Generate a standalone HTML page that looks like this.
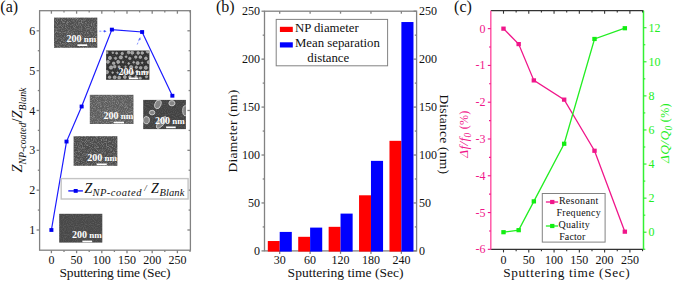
<!DOCTYPE html>
<html><head><meta charset="utf-8"><style>
html,body{margin:0;padding:0;background:#fff;width:675px;height:282px;overflow:hidden}
svg{display:block}
text{font-family:"Liberation Serif", serif}
</style></head><body>
<svg width="675" height="282" viewBox="0 0 675 282">
<defs>
<filter id="n1" x="0" y="0" width="100%" height="100%"><feTurbulence type="fractalNoise" baseFrequency="1.2" numOctaves="1" seed="2"/><feColorMatrix type="matrix" values="0 0 0 0 1  0 0 0 0 1  0 0 0 0 1  0.9 0 0 0 -0.38"/></filter>
<filter id="n2" x="0" y="0" width="100%" height="100%"><feTurbulence type="fractalNoise" baseFrequency="0.8" numOctaves="1" seed="5"/><feColorMatrix type="matrix" values="0 0 0 0 1  0 0 0 0 1  0 0 0 0 1  0.6 0 0 0 -0.3"/></filter>
<filter id="n3" x="0" y="0" width="100%" height="100%"><feTurbulence type="fractalNoise" baseFrequency="0.9" numOctaves="1" seed="7"/><feColorMatrix type="matrix" values="0 0 0 0 1  0 0 0 0 1  0 0 0 0 1  0.35 0 0 0 -0.15"/></filter>
<clipPath id="c2"><rect x="106.1" y="50.5" width="43.3" height="29.3"/></clipPath>
<clipPath id="c5"><rect x="143.2" y="99.9" width="42.7" height="29.2"/></clipPath>
</defs>
<rect width="675" height="282" fill="#fff"/>
<rect x="39.6" y="10.7" width="150.8" height="239.5" fill="none" stroke="#828282" stroke-width="1.3"/>
<line x1="51.4" y1="250.2" x2="51.4" y2="253.2" stroke="#828282" stroke-width="1.3" />
<line x1="51.4" y1="10.7" x2="51.4" y2="13.7" stroke="#828282" stroke-width="1.3" />
<line x1="64" y1="250.2" x2="64" y2="252" stroke="#828282" stroke-width="1.3" />
<line x1="64" y1="10.7" x2="64" y2="12.5" stroke="#828282" stroke-width="1.3" />
<line x1="76.6" y1="250.2" x2="76.6" y2="253.2" stroke="#828282" stroke-width="1.3" />
<line x1="76.6" y1="10.7" x2="76.6" y2="13.7" stroke="#828282" stroke-width="1.3" />
<line x1="89.2" y1="250.2" x2="89.2" y2="252" stroke="#828282" stroke-width="1.3" />
<line x1="89.2" y1="10.7" x2="89.2" y2="12.5" stroke="#828282" stroke-width="1.3" />
<line x1="101.8" y1="250.2" x2="101.8" y2="253.2" stroke="#828282" stroke-width="1.3" />
<line x1="101.8" y1="10.7" x2="101.8" y2="13.7" stroke="#828282" stroke-width="1.3" />
<line x1="114.4" y1="250.2" x2="114.4" y2="252" stroke="#828282" stroke-width="1.3" />
<line x1="114.4" y1="10.7" x2="114.4" y2="12.5" stroke="#828282" stroke-width="1.3" />
<line x1="127" y1="250.2" x2="127" y2="253.2" stroke="#828282" stroke-width="1.3" />
<line x1="127" y1="10.7" x2="127" y2="13.7" stroke="#828282" stroke-width="1.3" />
<line x1="139.6" y1="250.2" x2="139.6" y2="252" stroke="#828282" stroke-width="1.3" />
<line x1="139.6" y1="10.7" x2="139.6" y2="12.5" stroke="#828282" stroke-width="1.3" />
<line x1="152.2" y1="250.2" x2="152.2" y2="253.2" stroke="#828282" stroke-width="1.3" />
<line x1="152.2" y1="10.7" x2="152.2" y2="13.7" stroke="#828282" stroke-width="1.3" />
<line x1="164.8" y1="250.2" x2="164.8" y2="252" stroke="#828282" stroke-width="1.3" />
<line x1="164.8" y1="10.7" x2="164.8" y2="12.5" stroke="#828282" stroke-width="1.3" />
<line x1="177.4" y1="250.2" x2="177.4" y2="253.2" stroke="#828282" stroke-width="1.3" />
<line x1="177.4" y1="10.7" x2="177.4" y2="13.7" stroke="#828282" stroke-width="1.3" />
<line x1="190" y1="250.2" x2="190" y2="252" stroke="#828282" stroke-width="1.3" />
<line x1="190" y1="10.7" x2="190" y2="12.5" stroke="#828282" stroke-width="1.3" />
<line x1="36.6" y1="230" x2="39.6" y2="230" stroke="#828282" stroke-width="1.3" />
<line x1="187.4" y1="230" x2="190.4" y2="230" stroke="#828282" stroke-width="1.3" />
<line x1="37.8" y1="210.08" x2="39.6" y2="210.08" stroke="#828282" stroke-width="1.3" />
<line x1="188.6" y1="210.08" x2="190.4" y2="210.08" stroke="#828282" stroke-width="1.3" />
<line x1="36.6" y1="190.16" x2="39.6" y2="190.16" stroke="#828282" stroke-width="1.3" />
<line x1="187.4" y1="190.16" x2="190.4" y2="190.16" stroke="#828282" stroke-width="1.3" />
<line x1="37.8" y1="170.24" x2="39.6" y2="170.24" stroke="#828282" stroke-width="1.3" />
<line x1="188.6" y1="170.24" x2="190.4" y2="170.24" stroke="#828282" stroke-width="1.3" />
<line x1="36.6" y1="150.32" x2="39.6" y2="150.32" stroke="#828282" stroke-width="1.3" />
<line x1="187.4" y1="150.32" x2="190.4" y2="150.32" stroke="#828282" stroke-width="1.3" />
<line x1="37.8" y1="130.4" x2="39.6" y2="130.4" stroke="#828282" stroke-width="1.3" />
<line x1="188.6" y1="130.4" x2="190.4" y2="130.4" stroke="#828282" stroke-width="1.3" />
<line x1="36.6" y1="110.48" x2="39.6" y2="110.48" stroke="#828282" stroke-width="1.3" />
<line x1="187.4" y1="110.48" x2="190.4" y2="110.48" stroke="#828282" stroke-width="1.3" />
<line x1="37.8" y1="90.56" x2="39.6" y2="90.56" stroke="#828282" stroke-width="1.3" />
<line x1="188.6" y1="90.56" x2="190.4" y2="90.56" stroke="#828282" stroke-width="1.3" />
<line x1="36.6" y1="70.64" x2="39.6" y2="70.64" stroke="#828282" stroke-width="1.3" />
<line x1="187.4" y1="70.64" x2="190.4" y2="70.64" stroke="#828282" stroke-width="1.3" />
<line x1="37.8" y1="50.72" x2="39.6" y2="50.72" stroke="#828282" stroke-width="1.3" />
<line x1="188.6" y1="50.72" x2="190.4" y2="50.72" stroke="#828282" stroke-width="1.3" />
<line x1="36.6" y1="30.8" x2="39.6" y2="30.8" stroke="#828282" stroke-width="1.3" />
<line x1="187.4" y1="30.8" x2="190.4" y2="30.8" stroke="#828282" stroke-width="1.3" />
<text x="35.3" y="234.1" font-size="12" text-anchor="end" fill="#111"  style="">1</text>
<text x="35.3" y="194.26" font-size="12" text-anchor="end" fill="#111"  style="">2</text>
<text x="35.3" y="154.42" font-size="12" text-anchor="end" fill="#111"  style="">3</text>
<text x="35.3" y="114.58" font-size="12" text-anchor="end" fill="#111"  style="">4</text>
<text x="35.3" y="74.74" font-size="12" text-anchor="end" fill="#111"  style="">5</text>
<text x="35.3" y="34.9" font-size="12" text-anchor="end" fill="#111"  style="">6</text>
<text x="51.4" y="264.2" font-size="12" text-anchor="middle" fill="#111"  style="">0</text>
<text x="76.6" y="264.2" font-size="12" text-anchor="middle" fill="#111"  style="">50</text>
<text x="101.8" y="264.2" font-size="12" text-anchor="middle" fill="#111"  style="">100</text>
<text x="127" y="264.2" font-size="12" text-anchor="middle" fill="#111"  style="">150</text>
<text x="152.2" y="264.2" font-size="12" text-anchor="middle" fill="#111"  style="">200</text>
<text x="177.4" y="264.2" font-size="12" text-anchor="middle" fill="#111"  style="">250</text>
<text x="59.6" y="277" font-size="13.5" text-anchor="start" fill="#111" textLength="110.8" lengthAdjust="spacing" style="">Sputtering time (Sec)</text>
<text x="9.2" y="12" font-size="16" text-anchor="middle" fill="#111"  style="">(a)</text>
<text transform="translate(21.7,172.5) rotate(-90)" font-size="14.5" fill="#111" style="font-style:italic">Z<tspan font-size="9.8" dy="4">NP-coated</tspan><tspan dy="-4" font-size="14.5" style="font-style:normal">/</tspan>Z<tspan font-size="9.8" dy="4">Blank</tspan></text>
<rect x="54" y="17.6" width="43.3" height="30.2" fill="#4e4e4e" />
<rect x="54" y="17.6" width="43.3" height="30.2" fill="#fff" filter="url(#n1)" opacity="1"/>
<rect x="106.1" y="50.5" width="43.3" height="29.3" fill="#303030" />
<rect x="106.1" y="50.5" width="43.3" height="29.3" fill="#fff" filter="url(#n3)" opacity="1"/>
<rect x="89.8" y="94.8" width="43.7" height="29.2" fill="#5c5c5c" />
<rect x="89.8" y="94.8" width="43.7" height="29.2" fill="#fff" filter="url(#n1)" opacity="1"/>
<rect x="73.6" y="136.2" width="43.8" height="29.6" fill="#4a4a4a" />
<rect x="73.6" y="136.2" width="43.8" height="29.6" fill="#fff" filter="url(#n1)" opacity="1"/>
<rect x="143.2" y="99.9" width="42.7" height="29.2" fill="#424242" />
<rect x="143.2" y="99.9" width="42.7" height="29.2" fill="#fff" filter="url(#n3)" opacity="1"/>
<rect x="59.2" y="213.8" width="43.1" height="28.8" fill="#484848" />
<rect x="59.2" y="213.8" width="43.1" height="28.8" fill="#fff" filter="url(#n3)" opacity="1"/>
<g clip-path="url(#c2)"><circle cx="106.92" cy="52.59" r="1.13" fill="#a0a0a0" stroke="#cfcfcf" stroke-width="0.5"/><circle cx="112.83" cy="52.75" r="0.86" fill="#a0a0a0" stroke="#cfcfcf" stroke-width="0.5"/><circle cx="116.63" cy="53.17" r="1.03" fill="#a0a0a0" stroke="#cfcfcf" stroke-width="0.5"/><circle cx="122.22" cy="53.49" r="1.22" fill="#a0a0a0" stroke="#cfcfcf" stroke-width="0.5"/><circle cx="128.64" cy="52.45" r="1.38" fill="#a0a0a0" stroke="#cfcfcf" stroke-width="0.5"/><circle cx="132.23" cy="52.77" r="1.58" fill="#a0a0a0" stroke="#cfcfcf" stroke-width="0.5"/><circle cx="138.15" cy="52.98" r="1.4" fill="#a0a0a0" stroke="#cfcfcf" stroke-width="0.5"/><circle cx="142.24" cy="53.02" r="1.33" fill="#a0a0a0" stroke="#cfcfcf" stroke-width="0.5"/><circle cx="147.86" cy="51.56" r="1.58" fill="#a0a0a0" stroke="#cfcfcf" stroke-width="0.5"/><circle cx="109.94" cy="57.94" r="1.59" fill="#a0a0a0" stroke="#cfcfcf" stroke-width="0.5"/><circle cx="115.57" cy="58.34" r="1.16" fill="#a0a0a0" stroke="#cfcfcf" stroke-width="0.5"/><circle cx="120.86" cy="57.39" r="1.64" fill="#a0a0a0" stroke="#cfcfcf" stroke-width="0.5"/><circle cx="126.13" cy="56.69" r="0.92" fill="#a0a0a0" stroke="#cfcfcf" stroke-width="0.5"/><circle cx="129.78" cy="58.43" r="1.19" fill="#a0a0a0" stroke="#cfcfcf" stroke-width="0.5"/><circle cx="135.78" cy="57.1" r="1.26" fill="#a0a0a0" stroke="#cfcfcf" stroke-width="0.5"/><circle cx="140.35" cy="57.2" r="1.33" fill="#a0a0a0" stroke="#cfcfcf" stroke-width="0.5"/><circle cx="145.89" cy="58.31" r="1.41" fill="#a0a0a0" stroke="#cfcfcf" stroke-width="0.5"/><circle cx="151.74" cy="58.21" r="1.69" fill="#a0a0a0" stroke="#cfcfcf" stroke-width="0.5"/><circle cx="107.88" cy="61.83" r="1.57" fill="#a0a0a0" stroke="#cfcfcf" stroke-width="0.5"/><circle cx="113.62" cy="63.31" r="1.31" fill="#a0a0a0" stroke="#cfcfcf" stroke-width="0.5"/><circle cx="118.17" cy="61.92" r="1.55" fill="#a0a0a0" stroke="#cfcfcf" stroke-width="0.5"/><circle cx="122.96" cy="62.07" r="0.86" fill="#a0a0a0" stroke="#cfcfcf" stroke-width="0.5"/><circle cx="128.68" cy="63.48" r="0.88" fill="#a0a0a0" stroke="#cfcfcf" stroke-width="0.5"/><circle cx="133.66" cy="62.32" r="0.94" fill="#a0a0a0" stroke="#cfcfcf" stroke-width="0.5"/><circle cx="137.65" cy="63.04" r="1.59" fill="#a0a0a0" stroke="#cfcfcf" stroke-width="0.5"/><circle cx="142.2" cy="62.73" r="0.84" fill="#a0a0a0" stroke="#cfcfcf" stroke-width="0.5"/><circle cx="148.78" cy="62.16" r="1.59" fill="#a0a0a0" stroke="#cfcfcf" stroke-width="0.5"/><circle cx="111.06" cy="67.51" r="1.7" fill="#a0a0a0" stroke="#cfcfcf" stroke-width="0.5"/><circle cx="114.68" cy="66.65" r="1.34" fill="#a0a0a0" stroke="#cfcfcf" stroke-width="0.5"/><circle cx="119.17" cy="66.89" r="1.17" fill="#a0a0a0" stroke="#cfcfcf" stroke-width="0.5"/><circle cx="125.54" cy="66.81" r="0.84" fill="#a0a0a0" stroke="#cfcfcf" stroke-width="0.5"/><circle cx="131.21" cy="67.13" r="1.66" fill="#a0a0a0" stroke="#cfcfcf" stroke-width="0.5"/><circle cx="136.37" cy="67.26" r="1.21" fill="#a0a0a0" stroke="#cfcfcf" stroke-width="0.5"/><circle cx="140.64" cy="67.79" r="1.34" fill="#a0a0a0" stroke="#cfcfcf" stroke-width="0.5"/><circle cx="145.83" cy="67.74" r="1.65" fill="#a0a0a0" stroke="#cfcfcf" stroke-width="0.5"/><circle cx="150.82" cy="67.36" r="1.45" fill="#a0a0a0" stroke="#cfcfcf" stroke-width="0.5"/><circle cx="106.92" cy="72.1" r="1.68" fill="#a0a0a0" stroke="#cfcfcf" stroke-width="0.5"/><circle cx="112.65" cy="72.6" r="0.81" fill="#a0a0a0" stroke="#cfcfcf" stroke-width="0.5"/><circle cx="117.51" cy="72.66" r="0.82" fill="#a0a0a0" stroke="#cfcfcf" stroke-width="0.5"/><circle cx="123.05" cy="72.76" r="0.85" fill="#a0a0a0" stroke="#cfcfcf" stroke-width="0.5"/><circle cx="128.18" cy="72.43" r="1.41" fill="#a0a0a0" stroke="#cfcfcf" stroke-width="0.5"/><circle cx="132.68" cy="72.91" r="1.46" fill="#a0a0a0" stroke="#cfcfcf" stroke-width="0.5"/><circle cx="137.05" cy="71.62" r="1.41" fill="#a0a0a0" stroke="#cfcfcf" stroke-width="0.5"/><circle cx="144.22" cy="72" r="1.21" fill="#a0a0a0" stroke="#cfcfcf" stroke-width="0.5"/><circle cx="148.5" cy="72.14" r="1.13" fill="#a0a0a0" stroke="#cfcfcf" stroke-width="0.5"/><circle cx="109.59" cy="77.24" r="1.34" fill="#a0a0a0" stroke="#cfcfcf" stroke-width="0.5"/><circle cx="114.66" cy="77.25" r="1.5" fill="#a0a0a0" stroke="#cfcfcf" stroke-width="0.5"/><circle cx="119.16" cy="77.64" r="1.46" fill="#a0a0a0" stroke="#cfcfcf" stroke-width="0.5"/><circle cx="124.88" cy="76.95" r="1.52" fill="#a0a0a0" stroke="#cfcfcf" stroke-width="0.5"/><circle cx="129.83" cy="76.87" r="1.19" fill="#a0a0a0" stroke="#cfcfcf" stroke-width="0.5"/><circle cx="135.94" cy="76.7" r="1.09" fill="#a0a0a0" stroke="#cfcfcf" stroke-width="0.5"/><circle cx="140.23" cy="78.17" r="1.19" fill="#a0a0a0" stroke="#cfcfcf" stroke-width="0.5"/><circle cx="146.48" cy="76.84" r="1.1" fill="#a0a0a0" stroke="#cfcfcf" stroke-width="0.5"/><circle cx="151.13" cy="78.27" r="1.21" fill="#a0a0a0" stroke="#cfcfcf" stroke-width="0.5"/></g>
<g clip-path="url(#c5)"><ellipse cx="157.9" cy="104.3" rx="3.0" ry="4.5" transform="rotate(20 157.9 104.3)" fill="#858585" stroke="#d0d0d0" stroke-width="0.9"/><ellipse cx="171.9" cy="103.2" rx="3.0" ry="2.6" transform="rotate(0 171.9 103.2)" fill="#858585" stroke="#d0d0d0" stroke-width="0.9"/><ellipse cx="152.1" cy="112.6" rx="2.7" ry="2.3" transform="rotate(0 152.1 112.6)" fill="#858585" stroke="#d0d0d0" stroke-width="0.9"/><ellipse cx="146.4" cy="120.2" rx="3.0" ry="3.6" transform="rotate(10 146.4 120.2)" fill="#858585" stroke="#d0d0d0" stroke-width="0.9"/><ellipse cx="161.5" cy="122.5" rx="2.8" ry="7.2" transform="rotate(40 161.5 122.5)" fill="#858585" stroke="#d0d0d0" stroke-width="0.9"/><ellipse cx="185.2" cy="110.7" rx="2.5" ry="5" transform="rotate(0 185.2 110.7)" fill="#858585" stroke="#d0d0d0" stroke-width="0.9"/></g>
<text x="96.2" y="42.2" font-size="10" text-anchor="end" fill="#fff" font-weight="bold">200<tspan font-size="9"> nm</tspan></text>
<line x1="77.4" y1="45.15" x2="87.2" y2="45.15" stroke="#fff" stroke-width="1.7" />
<text x="148.2" y="74.8" font-size="10" text-anchor="end" fill="#fff" font-weight="bold">200<tspan font-size="9"> nm</tspan></text>
<line x1="128.8" y1="78.35" x2="138.3" y2="78.35" stroke="#fff" stroke-width="1.7" />
<text x="133.3" y="119.2" font-size="10" text-anchor="end" fill="#fff" font-weight="bold">200<tspan font-size="9"> nm</tspan></text>
<line x1="113.7" y1="122.55" x2="124" y2="122.55" stroke="#fff" stroke-width="1.7" />
<text x="116.9" y="161.3" font-size="10" text-anchor="end" fill="#fff" font-weight="bold">200<tspan font-size="9"> nm</tspan></text>
<line x1="96.7" y1="164.35" x2="106.8" y2="164.35" stroke="#fff" stroke-width="1.7" />
<text x="184.8" y="124.2" font-size="10" text-anchor="end" fill="#fff" font-weight="bold">200<tspan font-size="9"> nm</tspan></text>
<line x1="166.1" y1="127.35" x2="175.7" y2="127.35" stroke="#fff" stroke-width="1.7" />
<text x="101.8" y="238" font-size="10" text-anchor="end" fill="#fff" font-weight="bold">200<tspan font-size="9"> nm</tspan></text>
<line x1="82.4" y1="241.45" x2="92.2" y2="241.45" stroke="#fff" stroke-width="1.7" />
<line x1="99.3" y1="31.2" x2="104.5" y2="31.2" stroke="#6677ff" stroke-width="0.8" stroke-dasharray="2 1.6"/>
<path d="M104 29.9 L106.6 31.2 L104 32.5 Z" fill="#4455ff"/>
<line x1="137.2" y1="44.5" x2="139.3" y2="39.5" stroke="#6677ff" stroke-width="0.8" stroke-dasharray="2 1.6"/>
<path d="M138.3 39.4 L140.3 37.2 L140.5 40.1 Z" fill="#4455ff"/>
<polyline points="51.4,230 66.52,141.56 81.64,106.5 111.88,29.6 142.12,32 172.36,95.74" fill="none" stroke="#1a1aff" stroke-width="1.2"/>
<rect x="49.4" y="228.1" width="4" height="3.8" fill="#0000f0" />
<rect x="64.52" y="139.66" width="4" height="3.8" fill="#0000f0" />
<rect x="79.64" y="104.6" width="4" height="3.8" fill="#0000f0" />
<rect x="109.88" y="27.7" width="4" height="3.8" fill="#0000f0" />
<rect x="140.12" y="30.1" width="4" height="3.8" fill="#0000f0" />
<rect x="170.36" y="93.84" width="4" height="3.8" fill="#0000f0" />
<rect x="61.2" y="178.6" width="126.9" height="20.4" fill="#fff" stroke="#c4c4c4" stroke-width="1.4"/>
<line x1="68.3" y1="190.9" x2="82.9" y2="190.9" stroke="#1a1aff" stroke-width="1.4" />
<rect x="73.7" y="189" width="4" height="3.8" fill="#0000f0" />
<text x="84.6" y="193.1" font-size="14" fill="#111" style="font-style:italic">Z</text>
<text x="92.4" y="196.3" font-size="10.5" fill="#111" style="font-style:italic" textLength="49" lengthAdjust="spacing">NP-coated</text>
<text x="144.2" y="191" font-size="9" fill="#111" style="font-style:italic">/</text>
<text x="151.0" y="193.1" font-size="14" fill="#111" style="font-style:italic">Z</text>
<text x="159.4" y="196.0" font-size="10.5" fill="#111" style="font-style:italic" textLength="25" lengthAdjust="spacing">Blank</text>
<rect x="264.5" y="11.2" width="152.1" height="239.7" fill="none" stroke="#828282" stroke-width="1.3"/>
<line x1="261.5" y1="250.9" x2="264.5" y2="250.9" stroke="#828282" stroke-width="1.3" />
<line x1="413.6" y1="250.9" x2="416.6" y2="250.9" stroke="#828282" stroke-width="1.3" />
<line x1="262.7" y1="226.93" x2="264.5" y2="226.93" stroke="#828282" stroke-width="1.3" />
<line x1="414.8" y1="226.93" x2="416.6" y2="226.93" stroke="#828282" stroke-width="1.3" />
<line x1="261.5" y1="202.96" x2="264.5" y2="202.96" stroke="#828282" stroke-width="1.3" />
<line x1="413.6" y1="202.96" x2="416.6" y2="202.96" stroke="#828282" stroke-width="1.3" />
<line x1="262.7" y1="178.99" x2="264.5" y2="178.99" stroke="#828282" stroke-width="1.3" />
<line x1="414.8" y1="178.99" x2="416.6" y2="178.99" stroke="#828282" stroke-width="1.3" />
<line x1="261.5" y1="155.02" x2="264.5" y2="155.02" stroke="#828282" stroke-width="1.3" />
<line x1="413.6" y1="155.02" x2="416.6" y2="155.02" stroke="#828282" stroke-width="1.3" />
<line x1="262.7" y1="131.05" x2="264.5" y2="131.05" stroke="#828282" stroke-width="1.3" />
<line x1="414.8" y1="131.05" x2="416.6" y2="131.05" stroke="#828282" stroke-width="1.3" />
<line x1="261.5" y1="107.08" x2="264.5" y2="107.08" stroke="#828282" stroke-width="1.3" />
<line x1="413.6" y1="107.08" x2="416.6" y2="107.08" stroke="#828282" stroke-width="1.3" />
<line x1="262.7" y1="83.11" x2="264.5" y2="83.11" stroke="#828282" stroke-width="1.3" />
<line x1="414.8" y1="83.11" x2="416.6" y2="83.11" stroke="#828282" stroke-width="1.3" />
<line x1="261.5" y1="59.14" x2="264.5" y2="59.14" stroke="#828282" stroke-width="1.3" />
<line x1="413.6" y1="59.14" x2="416.6" y2="59.14" stroke="#828282" stroke-width="1.3" />
<line x1="262.7" y1="35.17" x2="264.5" y2="35.17" stroke="#828282" stroke-width="1.3" />
<line x1="414.8" y1="35.17" x2="416.6" y2="35.17" stroke="#828282" stroke-width="1.3" />
<line x1="261.5" y1="11.2" x2="264.5" y2="11.2" stroke="#828282" stroke-width="1.3" />
<line x1="413.6" y1="11.2" x2="416.6" y2="11.2" stroke="#828282" stroke-width="1.3" />
<line x1="279.7" y1="250.9" x2="279.7" y2="253.9" stroke="#828282" stroke-width="1.3" />
<line x1="279.7" y1="11.2" x2="279.7" y2="13.7" stroke="#828282" stroke-width="1.3" />
<line x1="310.12" y1="250.9" x2="310.12" y2="253.9" stroke="#828282" stroke-width="1.3" />
<line x1="310.12" y1="11.2" x2="310.12" y2="13.7" stroke="#828282" stroke-width="1.3" />
<line x1="340.54" y1="250.9" x2="340.54" y2="253.9" stroke="#828282" stroke-width="1.3" />
<line x1="340.54" y1="11.2" x2="340.54" y2="13.7" stroke="#828282" stroke-width="1.3" />
<line x1="370.96" y1="250.9" x2="370.96" y2="253.9" stroke="#828282" stroke-width="1.3" />
<line x1="370.96" y1="11.2" x2="370.96" y2="13.7" stroke="#828282" stroke-width="1.3" />
<line x1="401.38" y1="250.9" x2="401.38" y2="253.9" stroke="#828282" stroke-width="1.3" />
<line x1="401.38" y1="11.2" x2="401.38" y2="13.7" stroke="#828282" stroke-width="1.3" />
<text x="259.9" y="255" font-size="12" text-anchor="end" fill="#111"  style="">0</text>
<text x="419" y="255" font-size="12" text-anchor="start" fill="#111"  style="">0</text>
<text x="259.9" y="207.06" font-size="12" text-anchor="end" fill="#111"  style="">50</text>
<text x="419" y="207.06" font-size="12" text-anchor="start" fill="#111"  style="">50</text>
<text x="259.9" y="159.12" font-size="12" text-anchor="end" fill="#111"  style="">100</text>
<text x="419" y="159.12" font-size="12" text-anchor="start" fill="#111"  style="">100</text>
<text x="259.9" y="111.18" font-size="12" text-anchor="end" fill="#111"  style="">150</text>
<text x="419" y="111.18" font-size="12" text-anchor="start" fill="#111"  style="">150</text>
<text x="259.9" y="63.24" font-size="12" text-anchor="end" fill="#111"  style="">200</text>
<text x="419" y="63.24" font-size="12" text-anchor="start" fill="#111"  style="">200</text>
<text x="259.9" y="15.3" font-size="12" text-anchor="end" fill="#111"  style="">250</text>
<text x="419" y="15.3" font-size="12" text-anchor="start" fill="#111"  style="">250</text>
<rect x="267.8" y="241.02" width="11.9" height="10.58" fill="#ff0000" />
<rect x="279.7" y="231.92" width="12.1" height="19.68" fill="#0000ff" />
<rect x="298.22" y="236.81" width="11.9" height="14.79" fill="#ff0000" />
<rect x="310.12" y="227.6" width="12.1" height="24" fill="#0000ff" />
<rect x="328.64" y="226.83" width="11.9" height="24.77" fill="#ff0000" />
<rect x="340.54" y="213.6" width="12.1" height="38" fill="#0000ff" />
<rect x="359.06" y="195.29" width="11.9" height="56.31" fill="#ff0000" />
<rect x="370.96" y="160.87" width="12.1" height="90.73" fill="#0000ff" />
<rect x="389.48" y="140.83" width="11.9" height="110.77" fill="#ff0000" />
<rect x="401.38" y="22.03" width="12.1" height="229.57" fill="#0000ff" />
<text x="279.7" y="264.2" font-size="12" text-anchor="middle" fill="#111"  style="">30</text>
<text x="310.12" y="264.2" font-size="12" text-anchor="middle" fill="#111"  style="">60</text>
<text x="340.54" y="264.2" font-size="12" text-anchor="middle" fill="#111"  style="">120</text>
<text x="370.96" y="264.2" font-size="12" text-anchor="middle" fill="#111"  style="">180</text>
<text x="401.38" y="264.2" font-size="12" text-anchor="middle" fill="#111"  style="">240</text>
<text x="287.6" y="276.6" font-size="13.5" text-anchor="start" fill="#111" textLength="116" lengthAdjust="spacing" style="">Sputtering time (Sec)</text>
<text x="225.25" y="12" font-size="16" text-anchor="middle" fill="#111"  style="">(b)</text>
<text transform="translate(236.8,172.4) rotate(-90)" font-size="13.5" fill="#111" textLength="82.6" lengthAdjust="spacing">Diameter (nm)</text>
<text transform="translate(439.7,94.4) rotate(90)" font-size="13.5" fill="#111" textLength="79.6" lengthAdjust="spacing">Distance (nm)</text>
<rect x="276.2" y="19.4" width="111.4" height="46.4" fill="#fff" stroke="#828282" stroke-width="1"/>
<rect x="279.9" y="26.8" width="12.9" height="5.2" fill="#ff0000" />
<rect x="279.9" y="42.3" width="12.9" height="5.2" fill="#0000ff" />
<text x="294.9" y="31.8" font-size="12.8" text-anchor="start" fill="#111"  style="">NP diameter</text>
<text x="294.9" y="47.3" font-size="12.8" text-anchor="start" fill="#111"  style="">Mean separation</text>
<text x="307.3" y="62.3" font-size="12.8" text-anchor="start" fill="#111"  style="">distance</text>
<line x1="490.8" y1="10.7" x2="643.5" y2="10.7" stroke="#333" stroke-width="1.3" />
<line x1="490.8" y1="249.4" x2="643.5" y2="249.4" stroke="#333" stroke-width="1.3" />
<line x1="490.8" y1="10.7" x2="490.8" y2="249.4" stroke="#ff5aa8" stroke-width="1.5" />
<line x1="643.5" y1="10.7" x2="643.5" y2="249.4" stroke="#33f033" stroke-width="1.5" />
<line x1="503.5" y1="249.4" x2="503.5" y2="252.4" stroke="#333" stroke-width="1.1" />
<line x1="503.5" y1="10.7" x2="503.5" y2="13.7" stroke="#333" stroke-width="1.1" />
<line x1="516.14" y1="249.4" x2="516.14" y2="251.2" stroke="#333" stroke-width="1.1" />
<line x1="516.14" y1="10.7" x2="516.14" y2="12.5" stroke="#333" stroke-width="1.1" />
<line x1="528.78" y1="249.4" x2="528.78" y2="252.4" stroke="#333" stroke-width="1.1" />
<line x1="528.78" y1="10.7" x2="528.78" y2="13.7" stroke="#333" stroke-width="1.1" />
<line x1="541.42" y1="249.4" x2="541.42" y2="251.2" stroke="#333" stroke-width="1.1" />
<line x1="541.42" y1="10.7" x2="541.42" y2="12.5" stroke="#333" stroke-width="1.1" />
<line x1="554.06" y1="249.4" x2="554.06" y2="252.4" stroke="#333" stroke-width="1.1" />
<line x1="554.06" y1="10.7" x2="554.06" y2="13.7" stroke="#333" stroke-width="1.1" />
<line x1="566.7" y1="249.4" x2="566.7" y2="251.2" stroke="#333" stroke-width="1.1" />
<line x1="566.7" y1="10.7" x2="566.7" y2="12.5" stroke="#333" stroke-width="1.1" />
<line x1="579.34" y1="249.4" x2="579.34" y2="252.4" stroke="#333" stroke-width="1.1" />
<line x1="579.34" y1="10.7" x2="579.34" y2="13.7" stroke="#333" stroke-width="1.1" />
<line x1="591.98" y1="249.4" x2="591.98" y2="251.2" stroke="#333" stroke-width="1.1" />
<line x1="591.98" y1="10.7" x2="591.98" y2="12.5" stroke="#333" stroke-width="1.1" />
<line x1="604.62" y1="249.4" x2="604.62" y2="252.4" stroke="#333" stroke-width="1.1" />
<line x1="604.62" y1="10.7" x2="604.62" y2="13.7" stroke="#333" stroke-width="1.1" />
<line x1="617.26" y1="249.4" x2="617.26" y2="251.2" stroke="#333" stroke-width="1.1" />
<line x1="617.26" y1="10.7" x2="617.26" y2="12.5" stroke="#333" stroke-width="1.1" />
<line x1="629.9" y1="249.4" x2="629.9" y2="252.4" stroke="#333" stroke-width="1.1" />
<line x1="629.9" y1="10.7" x2="629.9" y2="13.7" stroke="#333" stroke-width="1.1" />
<line x1="642.54" y1="249.4" x2="642.54" y2="251.2" stroke="#333" stroke-width="1.1" />
<line x1="642.54" y1="10.7" x2="642.54" y2="12.5" stroke="#333" stroke-width="1.1" />
<line x1="487.8" y1="249.33" x2="490.8" y2="249.33" stroke="#f0168a" stroke-width="1.1" />
<line x1="489" y1="230.94" x2="490.8" y2="230.94" stroke="#f0168a" stroke-width="1.1" />
<line x1="487.8" y1="212.55" x2="490.8" y2="212.55" stroke="#f0168a" stroke-width="1.1" />
<line x1="489" y1="194.16" x2="490.8" y2="194.16" stroke="#f0168a" stroke-width="1.1" />
<line x1="487.8" y1="175.77" x2="490.8" y2="175.77" stroke="#f0168a" stroke-width="1.1" />
<line x1="489" y1="157.38" x2="490.8" y2="157.38" stroke="#f0168a" stroke-width="1.1" />
<line x1="487.8" y1="138.99" x2="490.8" y2="138.99" stroke="#f0168a" stroke-width="1.1" />
<line x1="489" y1="120.6" x2="490.8" y2="120.6" stroke="#f0168a" stroke-width="1.1" />
<line x1="487.8" y1="102.21" x2="490.8" y2="102.21" stroke="#f0168a" stroke-width="1.1" />
<line x1="489" y1="83.82" x2="490.8" y2="83.82" stroke="#f0168a" stroke-width="1.1" />
<line x1="487.8" y1="65.43" x2="490.8" y2="65.43" stroke="#f0168a" stroke-width="1.1" />
<line x1="489" y1="47.04" x2="490.8" y2="47.04" stroke="#f0168a" stroke-width="1.1" />
<line x1="487.8" y1="28.65" x2="490.8" y2="28.65" stroke="#f0168a" stroke-width="1.1" />
<line x1="643.5" y1="249.24" x2="645.3" y2="249.24" stroke="#22ee22" stroke-width="1.1" />
<line x1="643.5" y1="232.2" x2="646.5" y2="232.2" stroke="#22ee22" stroke-width="1.1" />
<line x1="643.5" y1="215.16" x2="645.3" y2="215.16" stroke="#22ee22" stroke-width="1.1" />
<line x1="643.5" y1="198.12" x2="646.5" y2="198.12" stroke="#22ee22" stroke-width="1.1" />
<line x1="643.5" y1="181.08" x2="645.3" y2="181.08" stroke="#22ee22" stroke-width="1.1" />
<line x1="643.5" y1="164.04" x2="646.5" y2="164.04" stroke="#22ee22" stroke-width="1.1" />
<line x1="643.5" y1="147" x2="645.3" y2="147" stroke="#22ee22" stroke-width="1.1" />
<line x1="643.5" y1="129.96" x2="646.5" y2="129.96" stroke="#22ee22" stroke-width="1.1" />
<line x1="643.5" y1="112.92" x2="645.3" y2="112.92" stroke="#22ee22" stroke-width="1.1" />
<line x1="643.5" y1="95.88" x2="646.5" y2="95.88" stroke="#22ee22" stroke-width="1.1" />
<line x1="643.5" y1="78.84" x2="645.3" y2="78.84" stroke="#22ee22" stroke-width="1.1" />
<line x1="643.5" y1="61.8" x2="646.5" y2="61.8" stroke="#22ee22" stroke-width="1.1" />
<line x1="643.5" y1="44.76" x2="645.3" y2="44.76" stroke="#22ee22" stroke-width="1.1" />
<line x1="643.5" y1="27.72" x2="646.5" y2="27.72" stroke="#22ee22" stroke-width="1.1" />
<text x="485.5" y="253.33" font-size="12" text-anchor="end" fill="#f0168a"  style="">-6</text>
<text x="485.5" y="216.55" font-size="12" text-anchor="end" fill="#f0168a"  style="">-5</text>
<text x="485.5" y="179.77" font-size="12" text-anchor="end" fill="#f0168a"  style="">-4</text>
<text x="485.5" y="142.99" font-size="12" text-anchor="end" fill="#f0168a"  style="">-3</text>
<text x="485.5" y="106.21" font-size="12" text-anchor="end" fill="#f0168a"  style="">-2</text>
<text x="485.5" y="69.43" font-size="12" text-anchor="end" fill="#f0168a"  style="">-1</text>
<text x="485.5" y="32.65" font-size="12" text-anchor="end" fill="#f0168a"  style="">0</text>
<text x="648.5" y="236.2" font-size="12" text-anchor="start" fill="#22ee22"  style="">0</text>
<text x="648.5" y="202.12" font-size="12" text-anchor="start" fill="#22ee22"  style="">2</text>
<text x="648.5" y="168.04" font-size="12" text-anchor="start" fill="#22ee22"  style="">4</text>
<text x="648.5" y="133.96" font-size="12" text-anchor="start" fill="#22ee22"  style="">6</text>
<text x="648.5" y="99.88" font-size="12" text-anchor="start" fill="#22ee22"  style="">8</text>
<text x="648.5" y="65.8" font-size="12" text-anchor="start" fill="#22ee22"  style="">10</text>
<text x="648.5" y="31.72" font-size="12" text-anchor="start" fill="#22ee22"  style="">12</text>
<text x="503.5" y="263.6" font-size="12" text-anchor="middle" fill="#111"  style="">0</text>
<text x="528.78" y="263.6" font-size="12" text-anchor="middle" fill="#111"  style="">50</text>
<text x="554.06" y="263.6" font-size="12" text-anchor="middle" fill="#111"  style="">100</text>
<text x="579.34" y="263.6" font-size="12" text-anchor="middle" fill="#111"  style="">150</text>
<text x="604.62" y="263.6" font-size="12" text-anchor="middle" fill="#111"  style="">200</text>
<text x="629.9" y="263.6" font-size="12" text-anchor="middle" fill="#111"  style="">250</text>
<text x="503.2" y="277.3" font-size="13.3" text-anchor="start" fill="#111" textLength="126.5" lengthAdjust="spacing" style="">Sputtering time (Sec)</text>
<text x="462.95" y="12" font-size="16" text-anchor="middle" fill="#111"  style="">(c)</text>
<text transform="translate(468,157.8) rotate(-90)" font-size="13.5" fill="#f0168a" style="font-style:italic" textLength="47" lengthAdjust="spacing">&#916;f/f<tspan font-size="9.5" dy="3">0</tspan><tspan dy="-3" font-size="12" style="font-style:normal"> (%)</tspan></text>
<text transform="translate(669.3,163) rotate(-90)" font-size="13.5" fill="#22ee22" style="font-style:italic" textLength="59.5" lengthAdjust="spacing">&#916;Q/Q<tspan font-size="9.5" dy="3">0</tspan><tspan dy="-3" font-size="12" style="font-style:normal"> (%)</tspan></text>
<polyline points="503.5,28.65 518.67,44.1 533.84,80.4 564.17,99.64 594.51,150.76 624.84,231.68" fill="none" stroke="#f0168a" stroke-width="1.3"/>
<polyline points="503.5,232.2 518.67,230.16 533.84,201.36 564.17,143.76 594.51,38.97 624.84,28.23" fill="none" stroke="#22ee22" stroke-width="1.3"/>
<rect x="501.3" y="26.55" width="4.4" height="4.2" fill="#f0168a" />
<rect x="516.47" y="42" width="4.4" height="4.2" fill="#f0168a" />
<rect x="531.64" y="78.3" width="4.4" height="4.2" fill="#f0168a" />
<rect x="561.97" y="97.54" width="4.4" height="4.2" fill="#f0168a" />
<rect x="592.31" y="148.66" width="4.4" height="4.2" fill="#f0168a" />
<rect x="622.64" y="229.58" width="4.4" height="4.2" fill="#f0168a" />
<rect x="501.3" y="230.1" width="4.4" height="4.2" fill="#11ee11" />
<rect x="516.47" y="228.06" width="4.4" height="4.2" fill="#11ee11" />
<rect x="531.64" y="199.26" width="4.4" height="4.2" fill="#11ee11" />
<rect x="561.97" y="141.66" width="4.4" height="4.2" fill="#11ee11" />
<rect x="592.31" y="36.87" width="4.4" height="4.2" fill="#11ee11" />
<rect x="622.64" y="26.13" width="4.4" height="4.2" fill="#11ee11" />
<rect x="542.3" y="193.5" width="62.8" height="48.6" fill="#fff" stroke="#828282" stroke-width="1"/>
<line x1="545.9" y1="202" x2="558.1" y2="202" stroke="#f0168a" stroke-width="1.3" />
<rect x="550.1" y="199.9" width="4.3" height="4.2" fill="#f0168a" />
<line x1="545.9" y1="226" x2="558.1" y2="226" stroke="#22ee22" stroke-width="1.3" />
<rect x="550.1" y="223.9" width="4.3" height="4.2" fill="#11ee11" />
<text x="558.9" y="204" font-size="10" text-anchor="start" fill="#111" textLength="39.3" lengthAdjust="spacing" style="">Resonant</text>
<text x="556.5" y="215.5" font-size="10" text-anchor="start" fill="#111" textLength="44.3" lengthAdjust="spacing" style="">Frequency</text>
<text x="558.5" y="228.4" font-size="10" text-anchor="start" fill="#111" textLength="31.3" lengthAdjust="spacing" style="">Quality</text>
<text x="559.2" y="239.6" font-size="10" text-anchor="start" fill="#111" textLength="26.1" lengthAdjust="spacing" style="">Factor</text>
</svg></body></html>
